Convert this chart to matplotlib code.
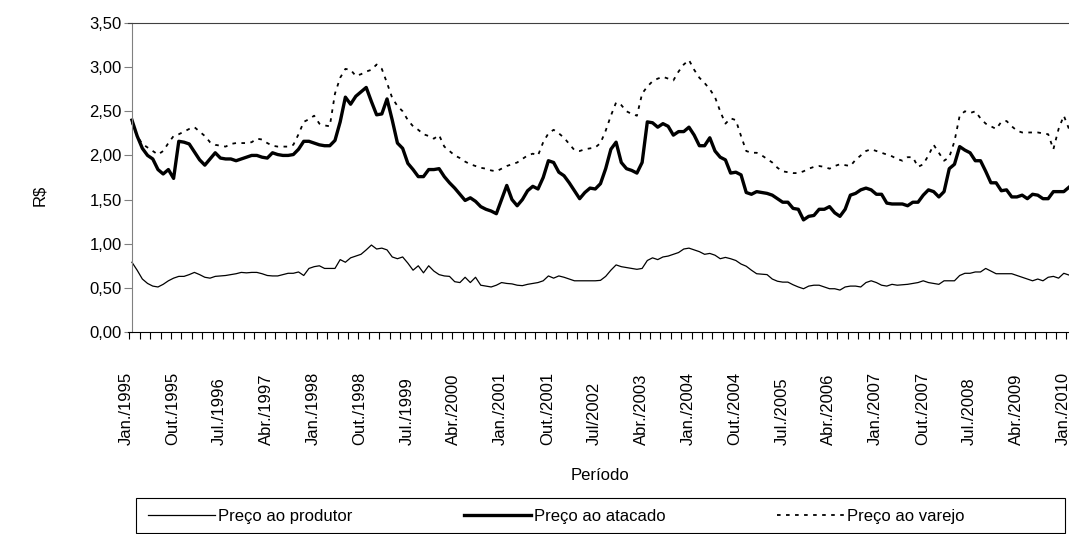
import matplotlib.pyplot as plt
import matplotlib.transforms as mtransforms
from matplotlib.patches import Rectangle
import numpy as np

# precos mensais (R$), jan/1995 a jan/2010
produtor = [0.79, 0.70, 0.60, 0.55, 0.52, 0.51, 0.54, 0.58, 0.61, 0.63,
            0.63, 0.65, 0.675, 0.65, 0.62, 0.61, 0.63, 0.635, 0.64, 0.65,
            0.66, 0.675, 0.67, 0.675, 0.675, 0.66, 0.64, 0.635, 0.635, 0.65,
            0.665, 0.665, 0.68, 0.64, 0.72, 0.74, 0.75, 0.72, 0.72, 0.72,
            0.82, 0.79, 0.84, 0.86, 0.88, 0.93, 0.985, 0.94, 0.95, 0.93,
            0.85, 0.83, 0.85, 0.78, 0.70, 0.75, 0.67, 0.75, 0.69, 0.65,
            0.635, 0.63, 0.57, 0.56, 0.62, 0.56, 0.62, 0.53, 0.52, 0.51,
            0.53, 0.56, 0.55, 0.545, 0.53, 0.525, 0.54, 0.55, 0.56, 0.58,
            0.635, 0.61, 0.635, 0.62, 0.60, 0.58, 0.58, 0.58, 0.58, 0.58,
            0.585, 0.63, 0.70, 0.76, 0.74, 0.73, 0.72, 0.71, 0.72, 0.81,
            0.84, 0.82, 0.85, 0.86, 0.88, 0.90, 0.94, 0.95, 0.93, 0.91,
            0.88, 0.89, 0.87, 0.83, 0.845, 0.83, 0.81, 0.77, 0.745, 0.70,
            0.66, 0.655, 0.65, 0.60, 0.575, 0.565, 0.565, 0.535, 0.51, 0.49,
            0.52, 0.53, 0.53, 0.51, 0.49, 0.49, 0.475, 0.51, 0.52, 0.52,
            0.51, 0.56, 0.58, 0.56, 0.53, 0.52, 0.54, 0.53, 0.535, 0.54,
            0.55, 0.56, 0.58, 0.56, 0.55, 0.54, 0.58, 0.58, 0.58, 0.64,
            0.665, 0.665, 0.68, 0.68, 0.72, 0.69, 0.66, 0.66, 0.66, 0.66,
            0.64, 0.62, 0.60, 0.58, 0.60, 0.58, 0.62, 0.63, 0.61, 0.665,
            0.645]

atacado = [2.40, 2.22, 2.08, 2.00, 1.96, 1.84, 1.79, 1.84, 1.74, 2.16,
           2.15, 2.13, 2.04, 1.95, 1.89, 1.96, 2.03, 1.97, 1.96, 1.96,
           1.94, 1.96, 1.98, 2.00, 2.00, 1.98, 1.97, 2.03, 2.01, 2.00,
           2.00, 2.01, 2.07, 2.16, 2.16, 2.14, 2.12, 2.11, 2.11, 2.17,
           2.38, 2.66, 2.58, 2.67, 2.72, 2.77, 2.61, 2.46, 2.47, 2.64,
           2.40, 2.14, 2.08, 1.91, 1.84, 1.76, 1.76, 1.84, 1.84, 1.85,
           1.76, 1.69, 1.63, 1.56, 1.49, 1.52, 1.48, 1.42, 1.39, 1.37,
           1.34, 1.50, 1.66, 1.50, 1.43, 1.50, 1.60, 1.65, 1.62, 1.75,
           1.94, 1.92, 1.81, 1.77, 1.69, 1.60, 1.51, 1.58, 1.63, 1.62,
           1.68, 1.85, 2.07, 2.15, 1.92, 1.85, 1.83, 1.80, 1.92, 2.38,
           2.37, 2.32, 2.36, 2.33, 2.23, 2.27, 2.27, 2.32, 2.23, 2.11,
           2.11, 2.20, 2.05, 1.98, 1.95, 1.80, 1.81, 1.78, 1.58, 1.56,
           1.59, 1.58, 1.57, 1.55, 1.51, 1.47, 1.47, 1.40, 1.39, 1.27,
           1.31, 1.32, 1.39, 1.39, 1.42, 1.35, 1.31, 1.39, 1.55, 1.57,
           1.61, 1.63, 1.61, 1.56, 1.56, 1.46, 1.45, 1.45, 1.45, 1.43,
           1.47, 1.47, 1.55, 1.61, 1.59, 1.53, 1.59, 1.85, 1.90, 2.10,
           2.06, 2.03, 1.94, 1.94, 1.82, 1.69, 1.69, 1.60, 1.61, 1.53,
           1.53, 1.55, 1.51, 1.56, 1.55, 1.51, 1.51, 1.59, 1.59, 1.59,
           1.64]

varejo = [2.37, 2.22, 2.13, 2.09, 2.05, 2.01, 2.05, 2.14, 2.22, 2.24,
          2.27, 2.30, 2.32, 2.27, 2.22, 2.15, 2.12, 2.11, 2.10, 2.13,
          2.14, 2.14, 2.14, 2.15, 2.19, 2.18, 2.14, 2.11, 2.10, 2.10,
          2.10, 2.12, 2.24, 2.38, 2.41, 2.45, 2.36, 2.34, 2.33, 2.70,
          2.88, 2.98, 2.97, 2.90, 2.92, 2.95, 2.97, 3.03, 2.98, 2.82,
          2.65, 2.56, 2.50, 2.40, 2.33, 2.29, 2.24, 2.22, 2.19, 2.23,
          2.10, 2.05, 2.00, 1.97, 1.93, 1.90, 1.88, 1.86, 1.85, 1.83,
          1.82, 1.85, 1.88, 1.90, 1.92, 1.96, 2.00, 2.02, 2.00, 2.15,
          2.25, 2.29, 2.25, 2.20, 2.13, 2.06, 2.05, 2.07, 2.08, 2.09,
          2.14, 2.28, 2.45, 2.60, 2.57, 2.50, 2.47, 2.45, 2.70, 2.78,
          2.84, 2.87, 2.89, 2.87, 2.85, 2.95, 3.03, 3.08, 2.97, 2.88,
          2.82, 2.75, 2.66, 2.50, 2.36, 2.42, 2.40, 2.22, 2.05, 2.03,
          2.03, 2.00, 1.96, 1.92, 1.86, 1.82, 1.81, 1.80, 1.80, 1.82,
          1.85, 1.87, 1.88, 1.87, 1.85, 1.88, 1.90, 1.89, 1.88, 1.95,
          2.00, 2.05, 2.07, 2.05, 2.03, 2.01, 1.99, 1.96, 1.94, 1.98,
          1.98, 1.87, 1.90, 2.00, 2.12, 2.03, 1.94, 1.98, 2.16, 2.45,
          2.50, 2.48, 2.50, 2.42, 2.36, 2.33, 2.30, 2.38, 2.39, 2.33,
          2.28, 2.26, 2.26, 2.26, 2.26, 2.25, 2.24, 2.07, 2.30, 2.45,
          2.30]

rotulos_x = ['Jan./1995', 'Out./1995', 'Jul./1996', 'Abr./1997', 'Jan./1998',
             'Out./1998', 'Jul./1999', 'Abr./2000', 'Jan./2001', 'Out./2001',
             'Jul/2002', 'Abr./2003', 'Jan./2004', 'Out./2004', 'Jul./2005',
             'Abr./2006', 'Jan./2007', 'Out./2007', 'Jul./2008', 'Abr./2009',
             'Jan./2010']
pos_rotulos_x = list(range(0, 181, 9))
valores_y = [0.0, 0.5, 1.0, 1.5, 2.0, 2.5, 3.0, 3.5]
rotulos_y = ['0,00', '0,50', '1,00', '1,50', '2,00', '2,50', '3,00', '3,50']

plt.rcParams['font.family'] = ['Liberation Sans', 'DejaVu Sans']
plt.rcParams['font.size'] = 12

W, H = 1069, 534
fig = plt.figure(figsize=(W / 100, H / 100), dpi=100)
ax = fig.add_axes([128.3 / W, 1 - 332 / H, 940.7 / W, 309 / H])

meses = np.arange(len(produtor))
ax.plot(meses, produtor, color='black', lw=0.9, label='Preço ao produtor')
ax.plot(meses, atacado, color='black', lw=2.4, label='Preço ao atacado')
ax.plot(meses, varejo, color='black', lw=1.3, ls=(0, (2, 3)),
        label='Preço ao varejo')

ax.set_xlim(-0.7, 180)
ax.set_ylim(0, 3.5)
ax.set_yticks(valores_y)
ax.set_yticklabels(rotulos_y)
ax.set_xticks(np.arange(-0.5, 181, 2))
ax.set_xticklabels([])

ax.spines['left'].set_position(('data', 0))
ax.spines['left'].set_color('#808080')
ax.spines['right'].set_visible(False)
ax.spines['top'].set_color('#404040')
ax.spines['bottom'].set_color('black')
ax.tick_params(axis='y', direction='out', length=6, width=0.8,
               color='#808080', pad=1.5)
ax.tick_params(axis='x', direction='out', length=5, width=0.8, color='black')

# rotulos do eixo x, verticais e alinhados por baixo
trans = mtransforms.blended_transform_factory(ax.transData, ax.transAxes)
trans = mtransforms.offset_copy(trans, fig=fig, x=-6, y=0, units='dots')
for pos, txt in zip(pos_rotulos_x, rotulos_x):
    ax.text(pos, -0.3657, txt, rotation=90, ha='center', va='bottom',
            transform=trans)

ax.set_ylabel('R$')
ax.yaxis.set_label_coords((47 - 128.3) / 940.7, (332 - 195) / 309)
ax.text((600 - 128.3) / 940.7, (332 - 475) / 309, 'Período',
        transform=ax.transAxes, ha='center', va='center')

# legenda sem moldura + caixa desenhada a parte
leg = fig.legend(loc='center left', ncol=3,
                 bbox_to_anchor=(141.5 / W, 1 - 516 / H),
                 frameon=False, handlelength=4, handletextpad=0.2,
                 columnspacing=6.7, borderaxespad=0)
caixa = Rectangle((136 / W, 1 - 533 / H), 929 / W, 35 / H,
                  transform=fig.transFigure, fill=False,
                  edgecolor='black', lw=0.8)
fig.add_artist(caixa)

fig.savefig('out.png', dpi=100)
